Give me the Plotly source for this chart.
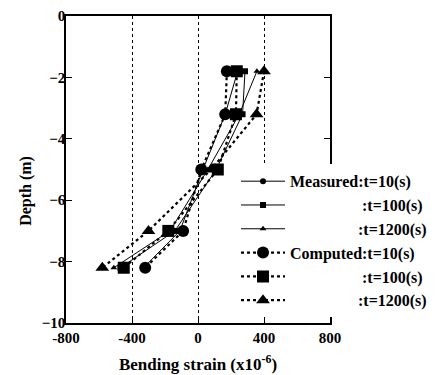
import plotly.graph_objects as go

depth = [-1.8, -3.2, -5.0, -7.0, -8.2]

meas_t10 = [240, 165, 30, -110, -330]
meas_t100 = [285, 270, 110, -140, -470]
meas_t1200 = [357, 250, 60, -170, -510]
comp_t10 = [175, 165, 20, -90, -320]
comp_t100 = [235, 230, 120, -180, -450]
comp_t1200 = [400, 355, 80, -300, -580]

NB = "\u00a0"
names = [
    "Measured:t=10(s)",
    NB * 18 + ":t=100(s)",
    NB * 17 + ":t=1200(s)",
    "Computed:t=10(s)",
    NB * 18 + ":t=100(s)",
    NB * 17 + ":t=1200(s)",
]

series = [
    (meas_t10, "circle", 6, "solid", 1),
    (meas_t100, "square", 6, "solid", 1),
    (meas_t1200, "triangle-up", 6, "solid", 1),
    (comp_t10, "circle", 12, "dot", 2.2),
    (comp_t100, "square", 12, "dot", 2.2),
    (comp_t1200, "triangle-up", 12, "dot", 2.2),
]

fig = go.Figure()
for (xs, sym, size, dash, w), nm in zip(series, names):
    fig.add_trace(go.Scatter(
        x=xs, y=depth, name=nm, mode="lines+markers",
        line=dict(color="black", width=w, dash=dash),
        marker=dict(symbol=sym, size=size, color="black"),
    ))

FAM = "Liberation Serif"
font = dict(family=FAM, color="black")

fig.update_layout(
    width=447, height=375,
    margin=dict(l=58, r=125, t=8, b=60),
    paper_bgcolor="white", plot_bgcolor="white",
    font=dict(**font, size=14),
    legend=dict(
        x=0.644, y=0.517, xanchor="left", yanchor="top",
        bgcolor="white", borderwidth=0,
        font=dict(**font, size=16, weight="bold"),
        tracegroupgap=0, itemwidth=44,
    ),
    xaxis=dict(
        range=[-800, 800], tickvals=[-800, -400, 0, 400, 800],
        ticktext=["-800", "-400", "0", "400", "800"],
        showline=True, linecolor="black", linewidth=1.5, mirror=True,
        ticks="inside", ticklen=6, tickcolor="black",
        showgrid=True, gridcolor="black", griddash="dot", gridwidth=1,
        zeroline=False, automargin=False,
        tickfont=dict(**font, size=15, weight="bold"),
        title=dict(text="Bending strain (x10<sup>-6</sup>)", font=dict(**font, size=17, weight="bold"), standoff=13),
    ),
    yaxis=dict(
        range=[-10, 0], tickvals=[0, -2, -4, -6, -8, -10],
        showline=True, linecolor="black", linewidth=1.5, mirror="ticks",
        ticks="inside", ticklen=6, tickcolor="black",
        showgrid=False, zeroline=False, automargin=False,
        ticklabelstandoff=-4,
        tickfont=dict(**font, size=15, weight="bold"),
    ),
    annotations=[dict(
        text="Depth (m)", textangle=-90, xref="paper", yref="paper",
        x=-0.152, y=0.43, xanchor="center", yanchor="middle", showarrow=False,
        font=dict(**font, size=16, weight="bold"),
    )],
)

fig.write_html("out.html")
